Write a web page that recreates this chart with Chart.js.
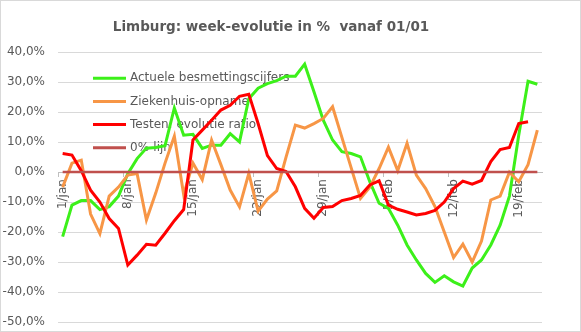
<!DOCTYPE html>
<html>
<head>
<meta charset="utf-8">
<script src="https://cdn.jsdelivr.net/npm/chart.js@4/dist/chart.umd.min.js"></script>
<style>
html,body{margin:0;padding:0;background:#fff;}
#wrap{width:581px;height:332px;position:relative;}
</style>
</head>
<body>
<div id="wrap"><canvas id="c" width="581" height="332"></canvas></div>
<script>
const dates = ['1/jan','2/jan','3/jan','4/jan','5/jan','6/jan','7/jan','8/jan','9/jan','10/jan',
 '11/jan','12/jan','13/jan','14/jan','15/jan','16/jan','17/jan','18/jan','19/jan','20/jan',
 '21/jan','22/jan','23/jan','24/jan','25/jan','26/jan','27/jan','28/jan','29/jan','30/jan','31/jan',
 '1/feb','2/feb','3/feb','4/feb','5/feb','6/feb','7/feb','8/feb','9/feb','10/feb',
 '11/feb','12/feb','13/feb','14/feb','15/feb','16/feb','17/feb','18/feb','19/feb','20/feb','21/feb'];

const seriesNames = ['Actuele besmettingscijfers','Ziekenhuis-opname','Testen: evolutie ratio','0%-lijn'];

const besmettingen = [-21.5,-11,-9.5,-9.5,-12.5,-11.5,-8,-0.5,4.5,8,
 8.2,8.8,21.4,12.3,12.6,7.9,9,9,12.8,10.1,
 24.5,28,29.5,30.5,32,32,36,26.8,17.3,10.7,
 6.8,6.2,5.1,-3.2,-10.4,-12.1,-17.7,-24.3,-29.3,-33.8,
 -36.8,-34.6,-36.6,-38,-32,-29.3,-24.3,-17.7,-8,12.3,
 30.3,29.3];

const ziekenhuis = [-5,3,4,-14,-20.5,-8,-5,-1,-0.5,-16,
 -7,3,12,-7.5,3,-2.5,10.7,2.5,-6,-11.6,
 -0.4,-13,-9,-6.3,5,15.7,14.7,16.2,17.9,21.8,
 11.6,1.4,-8.8,-5,1.2,8.3,0.5,9.6,-1,-5.5,
 -11.5,-20,-28.5,-24,-30,-23,-9.3,-8,0,-3.2,
 2.5,14];

const testen = [6.2,5.7,0.5,-6,-10,-15.5,-18.8,-31,-27.7,-24.1,
 -24.4,-20.4,-16.2,-12.5,10.7,14,17.3,20.7,22.3,25.3,
 26,16.2,5.5,1.2,0.2,-4.9,-12.1,-15.4,-11.8,-11.5,
 -9.5,-8.8,-7.8,-4.3,-2.9,-11,-12.4,-13.3,-14.3,-13.8,
 -12.8,-10,-5.5,-3,-4,-2.8,3.5,7.5,8.2,16.2,
 16.8,null];

const nulLijn = [0,0,0,0,0,0,0,0,0,0, 0,0,0,0,0,0,0,0,0,0,
 0,0,0,0,0,0,0,0,0,0, 0,0,0,0,0,0,0,0,0,0,
 0,0,0,0,0,0,0,0,0,0, 0,0];

const yTicks = [-50,-40,-30,-20,-10,0,10,20,30,40];
const labelEvery = 7;

const colors = ['#3CF01A','#F79646','#FF0000','#C0504D'];
const FONT = 'DejaVu Sans';
const TXT = '#595959';

const frame = {
  id:'frame',
  beforeDraw(chart){
    const c = chart.ctx;
    c.save();
    c.fillStyle='#fff';
    c.fillRect(0,0,chart.width,chart.height);
    c.strokeStyle='#D9D9D9';
    c.lineWidth=1;
    c.strokeRect(0.5,0.5,chart.width-1,chart.height-1);
    c.restore();
  }
};

const innerLegend = {
  id:'innerLegend',
  beforeDatasetsDraw(chart){
    const c = chart.ctx, a = chart.chartArea;
    const x0 = a.left + 35, x1 = a.left + 68, tx = a.left + 72;
    let y = a.top + 26;
    c.save();
    c.font = '12px "' + FONT + '"';
    c.textBaseline = 'middle';
    c.textAlign = 'left';
    chart.data.datasets.forEach((ds,i)=>{
      c.strokeStyle = ds.borderColor;
      c.lineWidth = 3;
      c.beginPath(); c.moveTo(x0,y); c.lineTo(x1,y); c.stroke();
      c.fillStyle = TXT;
      c.fillText(ds.label, tx, y);
      y += 23.2;
    });
    c.restore();
  }
};

new Chart(document.getElementById('c'), {
  type:'line',
  data:{
    labels: dates,
    datasets:[
      {label:seriesNames[0], data:besmettingen, borderColor:colors[0], borderWidth:3, order:4},
      {label:seriesNames[1], data:ziekenhuis, borderColor:colors[1], borderWidth:3, order:3},
      {label:seriesNames[2], data:testen, borderColor:colors[2], borderWidth:3, order:2},
      {label:seriesNames[3], data:nulLijn, borderColor:colors[3], borderWidth:2.5, order:1}
    ]
  },
  options:{
    responsive:false,
    animation:false,
    devicePixelRatio:1,
    elements:{point:{radius:0,hoverRadius:0}, line:{tension:0, borderCapStyle:'butt', borderJoinStyle:'miter'}},
    layout:{padding:{left:0,right:39,top:0,bottom:10}},
    plugins:{
      legend:{display:false},
      tooltip:{enabled:false},
      title:{display:true, text:'Limburg: week-evolutie in %  vanaf 01/01', color:TXT,
        font:{family:FONT, size:13.5, weight:'bold'}, padding:{top:19,bottom:17}}
    },
    scales:{
      x:{
        type:'category',
        position:{y:0},
        offset:true,
        grid:{offset:true, drawOnChartArea:false, drawTicks:true, tickLength:4,
          color:(ctx)=> (ctx.index % labelEvery === 0) ? '#BFBFBF' : 'rgba(0,0,0,0)'},
        border:{display:true, color:'#BFBFBF'},
        ticks:{autoSkip:false, maxRotation:90, minRotation:90, padding:3, color:TXT,
          font:{family:FONT, size:12},
          callback:function(v,i){ return i % labelEvery === 0 ? dates[i] : ''; }}
      },
      y:{
        min:yTicks[0], max:yTicks[yTicks.length-1],
        afterBuildTicks:(s)=>{ s.ticks = yTicks.map(v=>({value:v})); },
        afterFit:(s)=>{ s.width = 58; s.paddingTop = 0; s.paddingBottom = 0; },
        grid:{color:'#D9D9D9', drawTicks:false, lineWidth:1},
        border:{display:false},
        ticks:{padding:13, color:TXT, font:{family:FONT, size:12},
          callback:(v)=> v.toFixed(1).replace('.',',') + '%'}
      }
    }
  },
  plugins:[frame, innerLegend]
});
</script>
</body>
</html>
